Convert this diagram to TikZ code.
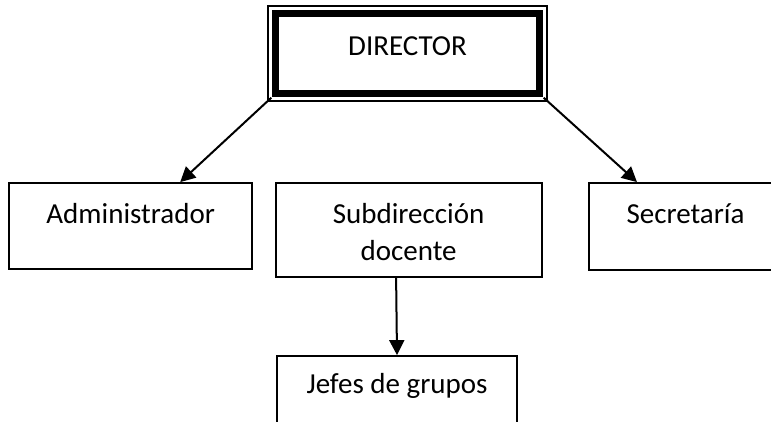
\documentclass[tikz,border=0pt]{standalone}
\usepackage{fontspec}
\setmainfont{Carlito}
\usetikzlibrary{arrows.meta}
\begin{document}
\begin{tikzpicture}[x=1pt,y=-1pt,
  box/.style={draw, line width=1.8pt, inner sep=0pt, rectangle},
  lbl/.style={anchor=base, inner sep=0pt, font=\fontsize{29}{37}\selectfont, align=center},
  conn/.style={line width=2pt, -{Triangle[length=15pt,width=15pt]}}]
\clip (0,0) rectangle (771,421);
\fill[white] (0,0) rectangle (771,421);
% director
\node[box, line width=1.4pt, minimum width=279pt, minimum height=95pt] (dir) at (407.5,53.5) {};
\draw[line width=7pt] ([shift={(8.5,8.5)}]dir.north west) rectangle ([shift={(-8.5,-8.5)}]dir.south east);
\node[lbl] (tdir) at (407.5,55) {DIRECTOR};
% second level
\node[box, minimum width=243pt, minimum height=86pt] (adm) at (130.7,226) {};
\node[lbl] (tadm) at (130.7,223) {Administrador};
\node[box, minimum width=266pt, minimum height=94pt] (sub) at (408.6,230) {};
\node[lbl] (tsub1) at (408.6,223) {Subdirección};
\node[lbl] (tsub2) at (408.6,260.7) {docente};
\node[box, minimum width=193pt, minimum height=87pt] (sec) at (685.5,226.5) {};
\node[lbl] (tsec) at (685.5,223) {Secretaría};
% third level
\node[box, minimum width=240pt, minimum height=86pt] (jef) at (397,399) {};
\node[lbl] (tjef) at (397,393) {Jefes de grupos};
% connectors
\coordinate (dl) at ([shift={(4,-4)}]dir.south west);
\coordinate (dr) at ([shift={(-4,-4)}]dir.south east);
\draw[conn] (dl) -- ([xshift=49.5pt]adm.north);
\draw[conn] (dr) -- ([xshift=-48.5pt]sec.north);
\draw[conn] ([xshift=-12.5pt]sub.south) -- (jef.north);
\end{tikzpicture}
\end{document}
